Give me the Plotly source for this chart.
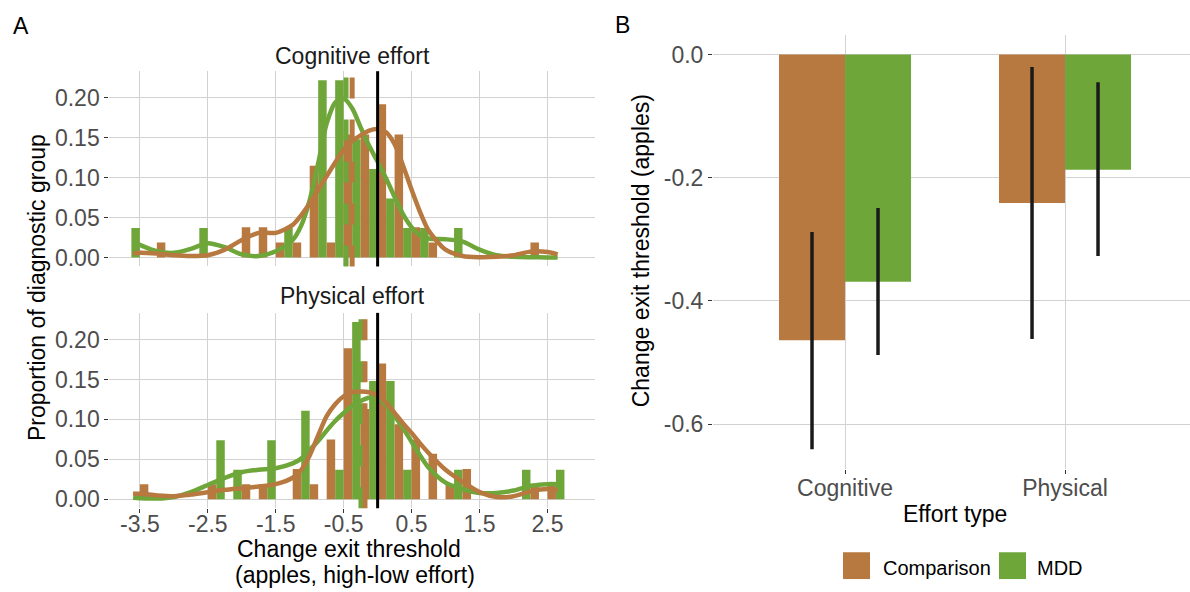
import plotly.graph_objects as go

# ---------------- data ----------------
groups = ["Comparison", "MDD"]
effort_types = ["Cognitive", "Physical"]
facet_titles = ["Cognitive effort", "Physical effort"]

# histogram bin centres (bin width 0.25)
bin_centers = [-3.5, -3.25, -3.0, -2.75, -2.5, -2.25, -2.0, -1.75, -1.5, -1.25,
               -1.0, -0.75, -0.5, -0.25, 0.0, 0.25, 0.5, 0.75, 1.0, 1.25,
               1.5, 1.75, 2.0, 2.25, 2.5, 2.75]

# proportion of diagnostic group per bin
cog_mdd = [0.037, 0, 0, 0, 0.037, 0, 0, 0, 0, 0.037,
           0, 0.222, 0.222, 0.148, 0.111, 0.074, 0.037, 0.037, 0, 0.037,
           0, 0, 0, 0, 0, 0]
cog_comp = [0, 0.019, 0, 0, 0, 0, 0.038, 0.038, 0.019, 0.019,
            0.115, 0.019, 0.154, 0.154, 0.192, 0.154, 0.038, 0.019, 0, 0,
            0, 0, 0, 0.019, 0, 0]
phys_mdd = [0, 0, 0, 0, 0, 0.074, 0.037, 0, 0.074, 0,
            0.111, 0, 0.037, 0.222, 0.148, 0.148, 0.037, 0, 0, 0.037,
            0, 0, 0, 0.037, 0, 0.037]
phys_comp = [0.019, 0, 0, 0, 0.019, 0, 0.019, 0.019, 0, 0.038,
             0.019, 0.075, 0.189, 0.113, 0.170, 0.094, 0.075, 0.057, 0.019, 0.038,
             0, 0, 0, 0.019, 0.019, 0]

# density curves (scaled to bin proportion)
density_x = [-3.6, -3.5, -3.25, -3.0, -2.75, -2.5, -2.25, -2.0, -1.75, -1.5,
             -1.25, -1.125, -1.0, -0.875, -0.75, -0.625, -0.5, -0.375, -0.25, -0.125,
             0.0, 0.125, 0.25, 0.375, 0.5, 0.625, 0.75, 1.0, 1.25, 1.5,
             1.75, 2.0, 2.25, 2.5, 2.65]
dens_cog_mdd = [0.020, 0.016, 0.008, 0.006, 0.011, 0.018, 0.013, 0.004, 0.002, 0.008,
                0.022, 0.040, 0.072, 0.118, 0.168, 0.194, 0.199, 0.187, 0.163, 0.140,
                0.120, 0.099, 0.076, 0.054, 0.038, 0.028, 0.024, 0.023, 0.020, 0.010,
                0.003, 0.001, 0.0005, 0.0003, 0.0003]
dens_cog_comp = [0.005, 0.006, 0.005, 0.003, 0.002, 0.003, 0.010, 0.022, 0.031, 0.031,
                 0.041, 0.053, 0.068, 0.085, 0.102, 0.119, 0.135, 0.146, 0.153, 0.159,
                 0.161, 0.157, 0.142, 0.115, 0.085, 0.057, 0.034, 0.010, 0.002, 0.0005,
                 0.001, 0.003, 0.0075, 0.007, 0.004]
dens_phys_mdd = [0.002, 0.0015, 0.001, 0.003, 0.009, 0.018, 0.027, 0.034, 0.037, 0.039,
                 0.045, 0.051, 0.062, 0.073, 0.086, 0.098, 0.108, 0.117, 0.123, 0.127,
                 0.126, 0.118, 0.104, 0.089, 0.072, 0.055, 0.040, 0.021, 0.013, 0.008,
                 0.008, 0.011, 0.017, 0.019, 0.019]
dens_phys_comp = [0.007, 0.007, 0.005, 0.004, 0.006, 0.009, 0.012, 0.014, 0.016, 0.019,
                  0.027, 0.037, 0.055, 0.080, 0.104, 0.119, 0.129, 0.134, 0.135, 0.134,
                  0.130, 0.121, 0.108, 0.095, 0.083, 0.070, 0.058, 0.037, 0.022, 0.009,
                  0.003, 0.004, 0.010, 0.013, 0.011]

# group mean lines drawn in panel A (as coloured in the figure)
mean_line_green = [-0.465, -0.245]   # cognitive, physical
mean_line_brown = [-0.375, -0.186]
reference_x = 0.0

# panel B: mean change and interval
mean_comp = [-0.464, -0.241]
mean_mdd = [-0.369, -0.187]
lo_comp = [-0.641, -0.462]
hi_comp = [-0.288, -0.020]
lo_mdd = [-0.488, -0.327]
hi_mdd = [-0.249, -0.045]

# tick labels
histx_tickvals = [-3.5, -2.5, -1.5, -0.5, 0.5, 1.5, 2.5]
histx_ticktext = ["-3.5", "-2.5", "-1.5", "-0.5", "0.5", "1.5", "2.5"]
histy_tickvals = [0.0, 0.05, 0.10, 0.15, 0.20]
histy_ticktext = ["0.00", "0.05", "0.10", "0.15", "0.20"]
bary_tickvals = [0.0, -0.2, -0.4, -0.6]
bary_ticktext = ["0.0", "-0.2", "-0.4", "-0.6"]

# ---------------- style ----------------
W, H = 1190, 592
BROWN = "#B7793F"
GREEN = "#6FA63A"
GRID = "#D2D2D2"
TICKC = "#4D4D4D"
FONT = "Liberation Sans, Arial, sans-serif"
FS = 23


def fx(p):
    return p / W


def fy(p):
    return 1 - p / H


fig = go.Figure()

hist_sets = [
    ("x", "y", cog_mdd, cog_comp, dens_cog_mdd, dens_cog_comp),
    ("x2", "y2", phys_mdd, phys_comp, dens_phys_mdd, dens_phys_comp),
]
for xa, ya, g_vals, b_vals, g_dens, b_dens in hist_sets:
    fig.add_trace(go.Bar(x=bin_centers, y=g_vals, width=0.125, offset=-0.125,
                         marker=dict(color=GREEN, line=dict(width=0)),
                         xaxis=xa, yaxis=ya, showlegend=False, name=groups[1]))
    fig.add_trace(go.Bar(x=bin_centers, y=b_vals, width=0.125, offset=0.0,
                         marker=dict(color=BROWN, line=dict(width=0)),
                         xaxis=xa, yaxis=ya, showlegend=False, name=groups[0]))
    fig.add_trace(go.Scatter(x=density_x, y=g_dens, mode="lines",
                             line=dict(color=GREEN, width=4.5, shape="spline", smoothing=0.8),
                             xaxis=xa, yaxis=ya, showlegend=False, hoverinfo="skip"))
    fig.add_trace(go.Scatter(x=density_x, y=b_dens, mode="lines",
                             line=dict(color=BROWN, width=4.5, shape="spline", smoothing=0.8),
                             xaxis=xa, yaxis=ya, showlegend=False, hoverinfo="skip"))

# panel B bars with intervals
err_common = dict(type="data", symmetric=False, width=0, thickness=3.5, color="#1A1A1A")
fig.add_trace(go.Bar(
    x=effort_types, y=mean_comp, width=0.3, offset=-0.3,
    marker=dict(color=BROWN, line=dict(width=0)), name=groups[0],
    error_y=dict(array=[h - m for h, m in zip(hi_comp, mean_comp)],
                 arrayminus=[m - l for m, l in zip(mean_comp, lo_comp)], **err_common),
    xaxis="x3", yaxis="y3", showlegend=False))
fig.add_trace(go.Bar(
    x=effort_types, y=mean_mdd, width=0.3, offset=0.0,
    marker=dict(color=GREEN, line=dict(width=0)), name=groups[1],
    error_y=dict(array=[h - m for h, m in zip(hi_mdd, mean_mdd)],
                 arrayminus=[m - l for m, l in zip(mean_mdd, lo_mdd)], **err_common),
    xaxis="x3", yaxis="y3", showlegend=False))

# vertical lines in panel A
shapes = []
for i, (xa, ya) in enumerate([("x", "y"), ("x2", "y2")]):
    shapes.append(dict(type="line", xref=xa, yref=ya + " domain",
                       x0=mean_line_green[i], x1=mean_line_green[i], y0=0, y1=1,
                       line=dict(color=GREEN, width=5, dash="21px,21px")))
    shapes.append(dict(type="line", xref=xa, yref=ya + " domain",
                       x0=mean_line_brown[i], x1=mean_line_brown[i], y0=0, y1=1,
                       line=dict(color=BROWN, width=5, dash="21px,21px")))
    shapes.append(dict(type="line", xref=xa, yref=ya + " domain",
                       x0=reference_x, x1=reference_x, y0=0, y1=1,
                       line=dict(color="black", width=3)))

# custom legend
legend_boxes = [(843, 870, BROWN), (999, 1026, GREEN)]
for (l, r, c) in legend_boxes:
    shapes.append(dict(type="rect", xref="paper", yref="paper",
                       x0=fx(l), x1=fx(r), y0=fy(583), y1=fy(556),
                       fillcolor=c, line=dict(width=0)))

annotations = [
    dict(text="A", x=fx(21), y=fy(26)),
    dict(text="B", x=fx(622), y=fy(25)),
    dict(text=facet_titles[0], x=fx(352), y=fy(56), font=dict(size=FS, color="#1A1A1A", family=FONT)),
    dict(text=facet_titles[1], x=fx(352), y=fy(298), font=dict(size=FS, color="#1A1A1A", family=FONT)),
    dict(text="Proportion of diagnostic group", x=fx(37), y=fy(290), textangle=-90),
    dict(text="Change exit threshold", x=fx(349), y=fy(552.5), borderpad=0),
    dict(text="(apples, high-low effort)", x=fx(355), y=fy(578.5), borderpad=0),
    dict(text="Change exit threshold (apples)", x=fx(641), y=fy(253), textangle=-90),
    dict(text="Effort type", x=fx(955), y=fy(517)),
    dict(text=groups[0], x=fx(881), y=fy(572), xanchor="left", font=dict(size=20, color="black", family=FONT)),
    dict(text=groups[1], x=fx(1035), y=fy(572), xanchor="left", font=dict(size=20, color="black", family=FONT)),
]
for a in annotations:
    a.setdefault("xref", "paper")
    a.setdefault("yref", "paper")
    a.setdefault("showarrow", False)
    a.setdefault("xanchor", "center")
    a.setdefault("yanchor", "middle")
    a.setdefault("font", dict(size=FS, color="black", family=FONT))

hist_x_common = dict(range=[-3.95, 3.2], tickvals=histx_tickvals, ticktext=histx_ticktext,
                     showgrid=True, gridcolor=GRID, gridwidth=1.4, zeroline=False,
                     showline=False, domain=[fx(109.3), fx(595)],
                     tickfont=dict(size=FS, color=TICKC, family=FONT))
hist_y_common = dict(range=[-0.0111, 0.2333], tickvals=histy_tickvals, ticktext=histy_ticktext,
                     showgrid=True, gridcolor=GRID, gridwidth=1.4, zeroline=False,
                     showline=False, ticks="outside", ticklen=4, tickwidth=1.1, tickcolor="#333333",
                     tickfont=dict(size=FS, color=TICKC, family=FONT))

fig.update_layout(
    width=W, height=H,
    margin=dict(l=0, r=0, t=0, b=0),
    paper_bgcolor="white", plot_bgcolor="white",
    barmode="overlay",
    font=dict(family=FONT, size=FS, color="black"),
    xaxis=dict(anchor="y", showticklabels=False, ticks="", **hist_x_common),
    yaxis=dict(anchor="x", domain=[fy(268.3), fy(71.7)], **hist_y_common),
    xaxis2=dict(anchor="y2", ticks="outside", ticklen=4, tickwidth=1.1, tickcolor="#333333",
                ticklabelstandoff=-9, **hist_x_common),
    yaxis2=dict(anchor="x2", domain=[fy(511.7), fy(315)], **hist_y_common),
    xaxis3=dict(anchor="y3", type="category", domain=[fx(713), 1.0], range=[-0.6, 1.568],
                showgrid=True, gridcolor=GRID, gridwidth=1.4, zeroline=False, showline=False,
                ticks="outside", ticklen=4, tickwidth=1.1, tickcolor="#333333",
                ticklabelstandoff=-5,
                tickfont=dict(size=FS, color=TICKC, family=FONT)),
    yaxis3=dict(anchor="x3", domain=[fy(472), fy(35)], range=[-0.6726, 0.0322],
                tickvals=bary_tickvals, ticktext=bary_ticktext,
                showgrid=True, gridcolor=GRID, gridwidth=1.4, zeroline=False, showline=False,
                ticks="outside", ticklen=4, tickwidth=1.1, tickcolor="#333333",
                tickfont=dict(size=FS, color=TICKC, family=FONT)),
    shapes=shapes,
    annotations=annotations,
)

fig.write_html(
    "out.html",
    config={"displayModeBar": False},
    post_script="document.body.style.margin='0px';document.body.style.padding='0px';"
                "document.documentElement.style.overflow='hidden';",
)
